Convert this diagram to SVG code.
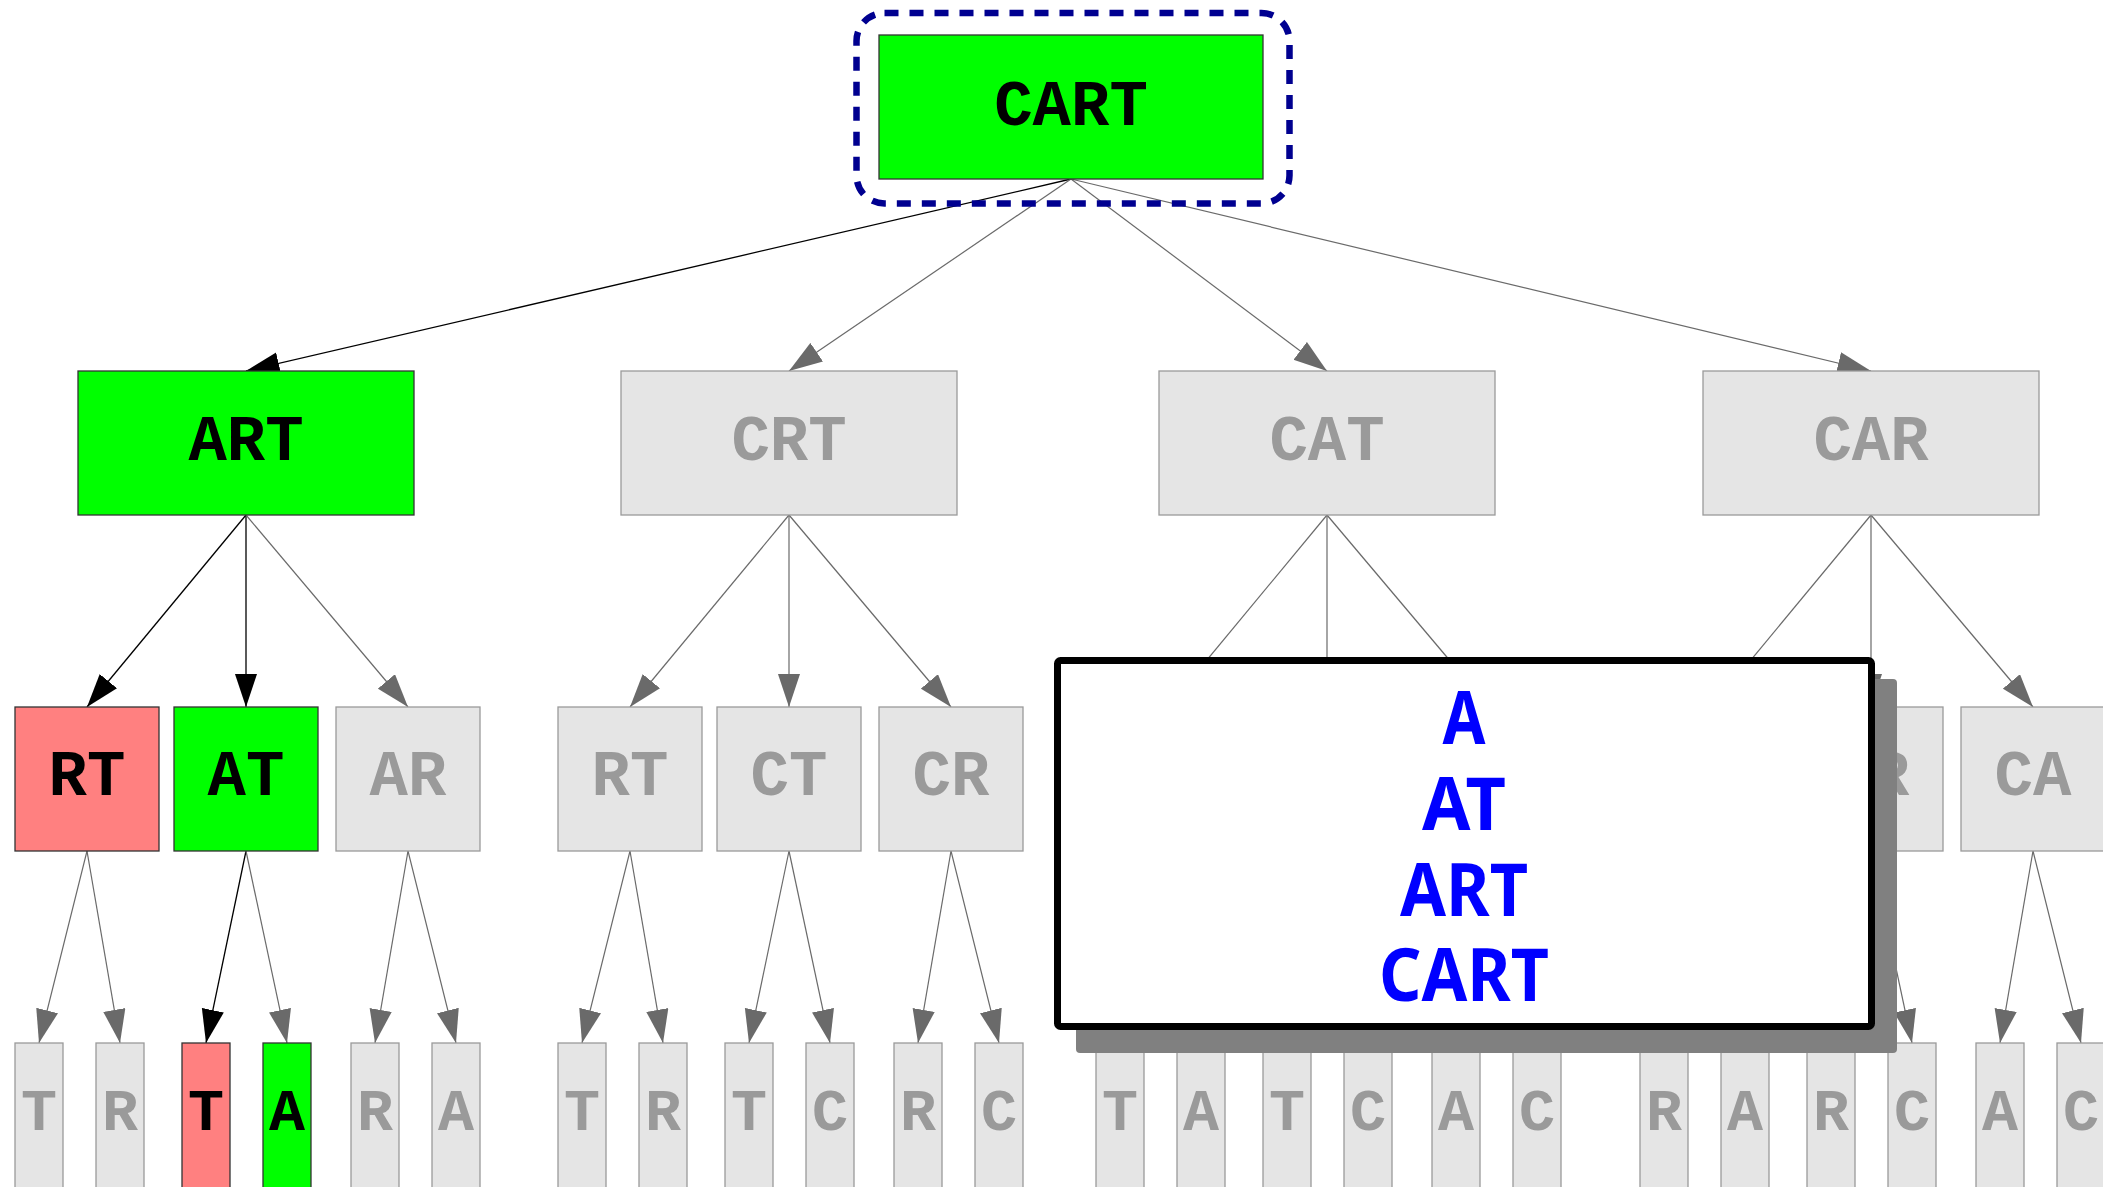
<svg xmlns="http://www.w3.org/2000/svg" width="2103" height="1187" viewBox="0 0 2103 1187">
<style>
.n rect{stroke-width:1.3}
.g rect{fill:#00ff00;stroke:#333}
.r rect{fill:#ff8080;stroke:#333}
.x rect{fill:#e5e5e5;stroke:#9a9a9a}
.n text{font-family:"Courier New","Liberation Mono",monospace;font-weight:bold;font-size:64px;text-anchor:middle}
.g text,.r text{fill:#000}
.x text{fill:#9a9a9a}
.l4 text{font-size:60px}
.eb{stroke:#000;stroke-width:1.3;fill:none;marker-end:url(#ab)}
.eg{stroke:#6a6a6a;stroke-width:1.2;fill:none;marker-end:url(#ag)}
.pop{font-family:"Noto Sans","Open Sans",sans-serif;font-weight:bold;font-size:73px;fill:#0000ff;text-anchor:middle}
</style>
<defs>
<marker id="ab" markerUnits="userSpaceOnUse" markerWidth="34" markerHeight="23" viewBox="0 0 34 23" refX="33.5" refY="11.2" orient="auto"><path d="M0,0 L33.5,11.2 L0,22.4 z" fill="#000"/></marker>
<marker id="ag" markerUnits="userSpaceOnUse" markerWidth="34" markerHeight="23" viewBox="0 0 34 23" refX="33.5" refY="11.2" orient="auto"><path d="M0,0 L33.5,11.2 L0,22.4 z" fill="#6a6a6a"/></marker>
</defs>
<rect width="2103" height="1187" fill="#fff"/>
<g id="connectors">
<line class="eb" x1="1071" y1="179" x2="246" y2="371"/>
<line class="eg" x1="1071" y1="179" x2="789" y2="371"/>
<line class="eg" x1="1071" y1="179" x2="1327" y2="371"/>
<line class="eg" x1="1071" y1="179" x2="1871" y2="371"/>
<line class="eb" x1="246" y1="515" x2="87" y2="707"/>
<line class="eb" x1="246" y1="515" x2="246" y2="707"/>
<line class="eg" x1="246" y1="515" x2="408" y2="707"/>
<line class="eg" x1="789" y1="515" x2="630" y2="707"/>
<line class="eg" x1="789" y1="515" x2="789" y2="707"/>
<line class="eg" x1="789" y1="515" x2="951" y2="707"/>
<line class="eg" x1="1327" y1="515" x2="1168" y2="707"/>
<line class="eg" x1="1327" y1="515" x2="1327" y2="707"/>
<line class="eg" x1="1327" y1="515" x2="1489" y2="707"/>
<line class="eg" x1="1871" y1="515" x2="1712" y2="707"/>
<line class="eg" x1="1871" y1="515" x2="1871" y2="707"/>
<line class="eg" x1="1871" y1="515" x2="2033" y2="707"/>
<line class="eg" x1="87" y1="851" x2="39" y2="1043"/>
<line class="eg" x1="87" y1="851" x2="120" y2="1043"/>
<line class="eb" x1="246" y1="851" x2="206" y2="1043"/>
<line class="eg" x1="246" y1="851" x2="287" y2="1043"/>
<line class="eg" x1="408" y1="851" x2="375" y2="1043"/>
<line class="eg" x1="408" y1="851" x2="456" y2="1043"/>
<line class="eg" x1="630" y1="851" x2="582" y2="1043"/>
<line class="eg" x1="630" y1="851" x2="663" y2="1043"/>
<line class="eg" x1="789" y1="851" x2="749" y2="1043"/>
<line class="eg" x1="789" y1="851" x2="830" y2="1043"/>
<line class="eg" x1="951" y1="851" x2="918" y2="1043"/>
<line class="eg" x1="951" y1="851" x2="999" y2="1043"/>
<line class="eg" x1="1168" y1="851" x2="1120" y2="1043"/>
<line class="eg" x1="1168" y1="851" x2="1201" y2="1043"/>
<line class="eg" x1="1327" y1="851" x2="1287" y2="1043"/>
<line class="eg" x1="1327" y1="851" x2="1368" y2="1043"/>
<line class="eg" x1="1489" y1="851" x2="1456" y2="1043"/>
<line class="eg" x1="1489" y1="851" x2="1537" y2="1043"/>
<line class="eg" x1="1712" y1="851" x2="1664" y2="1043"/>
<line class="eg" x1="1712" y1="851" x2="1745" y2="1043"/>
<line class="eg" x1="1871" y1="851" x2="1831" y2="1043"/>
<line class="eg" x1="1871" y1="851" x2="1912" y2="1043"/>
<line class="eg" x1="2033" y1="851" x2="2000" y2="1043"/>
<line class="eg" x1="2033" y1="851" x2="2081" y2="1043"/>
</g>
<g id="root-highlight"><rect x="856.5" y="13" width="433" height="190.5" rx="28" fill="none" stroke="#000090" stroke-width="6.5" stroke-dasharray="14 11"/></g>
<g id="n-CART" class="n g"><rect x="879" y="35" width="384" height="144"/><text x="1071" y="125">CART</text></g>
<g id="n-ART" class="n g"><rect x="78" y="371" width="336" height="144"/><text x="246" y="460">ART</text></g>
<g id="n-CRT" class="n x"><rect x="621" y="371" width="336" height="144"/><text x="789" y="460">CRT</text></g>
<g id="n-CAT" class="n x"><rect x="1159" y="371" width="336" height="144"/><text x="1327" y="460">CAT</text></g>
<g id="n-CAR" class="n x"><rect x="1703" y="371" width="336" height="144"/><text x="1871" y="460">CAR</text></g>
<g id="n-ART-RT" class="n r"><rect x="15" y="707" width="144" height="144"/><text x="87" y="795">RT</text></g>
<g id="n-ART-AT" class="n g"><rect x="174" y="707" width="144" height="144"/><text x="246" y="795">AT</text></g>
<g id="n-ART-AR" class="n x"><rect x="336" y="707" width="144" height="144"/><text x="408" y="795">AR</text></g>
<g id="n-CRT-RT" class="n x"><rect x="558" y="707" width="144" height="144"/><text x="630" y="795">RT</text></g>
<g id="n-CRT-CT" class="n x"><rect x="717" y="707" width="144" height="144"/><text x="789" y="795">CT</text></g>
<g id="n-CRT-CR" class="n x"><rect x="879" y="707" width="144" height="144"/><text x="951" y="795">CR</text></g>
<g id="n-CAT-AT" class="n x"><rect x="1096" y="707" width="144" height="144"/></g>
<g id="n-CAT-CT" class="n x"><rect x="1255" y="707" width="144" height="144"/></g>
<g id="n-CAT-CA" class="n x"><rect x="1417" y="707" width="144" height="144"/></g>
<g id="n-CAR-AR" class="n x"><rect x="1640" y="707" width="144" height="144"/></g>
<g id="n-CAR-CR" class="n x"><rect x="1799" y="707" width="144" height="144"/><text x="1871" y="795">CR</text></g>
<g id="n-CAR-CA" class="n x"><rect x="1961" y="707" width="144" height="144"/><text x="2033" y="795">CA</text></g>
<g id="n-l4-1" class="n x l4"><rect x="15" y="1043" width="48" height="150"/><text x="39" y="1130">T</text></g>
<g id="n-l4-2" class="n x l4"><rect x="96" y="1043" width="48" height="150"/><text x="120" y="1130">R</text></g>
<g id="n-l4-3" class="n r l4"><rect x="182" y="1043" width="48" height="150"/><text x="206" y="1130">T</text></g>
<g id="n-l4-4" class="n g l4"><rect x="263" y="1043" width="48" height="150"/><text x="287" y="1130">A</text></g>
<g id="n-l4-5" class="n x l4"><rect x="351" y="1043" width="48" height="150"/><text x="375" y="1130">R</text></g>
<g id="n-l4-6" class="n x l4"><rect x="432" y="1043" width="48" height="150"/><text x="456" y="1130">A</text></g>
<g id="n-l4-7" class="n x l4"><rect x="558" y="1043" width="48" height="150"/><text x="582" y="1130">T</text></g>
<g id="n-l4-8" class="n x l4"><rect x="639" y="1043" width="48" height="150"/><text x="663" y="1130">R</text></g>
<g id="n-l4-9" class="n x l4"><rect x="725" y="1043" width="48" height="150"/><text x="749" y="1130">T</text></g>
<g id="n-l4-10" class="n x l4"><rect x="806" y="1043" width="48" height="150"/><text x="830" y="1130">C</text></g>
<g id="n-l4-11" class="n x l4"><rect x="894" y="1043" width="48" height="150"/><text x="918" y="1130">R</text></g>
<g id="n-l4-12" class="n x l4"><rect x="975" y="1043" width="48" height="150"/><text x="999" y="1130">C</text></g>
<g id="n-l4-13" class="n x l4"><rect x="1096" y="1043" width="48" height="150"/><text x="1120" y="1130">T</text></g>
<g id="n-l4-14" class="n x l4"><rect x="1177" y="1043" width="48" height="150"/><text x="1201" y="1130">A</text></g>
<g id="n-l4-15" class="n x l4"><rect x="1263" y="1043" width="48" height="150"/><text x="1287" y="1130">T</text></g>
<g id="n-l4-16" class="n x l4"><rect x="1344" y="1043" width="48" height="150"/><text x="1368" y="1130">C</text></g>
<g id="n-l4-17" class="n x l4"><rect x="1432" y="1043" width="48" height="150"/><text x="1456" y="1130">A</text></g>
<g id="n-l4-18" class="n x l4"><rect x="1513" y="1043" width="48" height="150"/><text x="1537" y="1130">C</text></g>
<g id="n-l4-19" class="n x l4"><rect x="1640" y="1043" width="48" height="150"/><text x="1664" y="1130">R</text></g>
<g id="n-l4-20" class="n x l4"><rect x="1721" y="1043" width="48" height="150"/><text x="1745" y="1130">A</text></g>
<g id="n-l4-21" class="n x l4"><rect x="1807" y="1043" width="48" height="150"/><text x="1831" y="1130">R</text></g>
<g id="n-l4-22" class="n x l4"><rect x="1888" y="1043" width="48" height="150"/><text x="1912" y="1130">C</text></g>
<g id="n-l4-23" class="n x l4"><rect x="1976" y="1043" width="48" height="150"/><text x="2000" y="1130">A</text></g>
<g id="n-l4-24" class="n x l4"><rect x="2057" y="1043" width="48" height="150"/><text x="2081" y="1130">C</text></g>
<g id="popup">
<rect x="1076" y="679" width="821" height="374" rx="4" fill="#808080"/>
<rect x="1057.5" y="660.5" width="814" height="366" rx="3" fill="#fff" stroke="#000" stroke-width="7"/>
<text class="pop" x="1464" y="744" textLength="43" lengthAdjust="spacingAndGlyphs">A</text>
<text class="pop" x="1464" y="830" textLength="84" lengthAdjust="spacingAndGlyphs">AT</text>
<text class="pop" x="1464" y="916" textLength="128" lengthAdjust="spacingAndGlyphs">ART</text>
<text class="pop" x="1464" y="1001" textLength="170" lengthAdjust="spacingAndGlyphs">CART</text>
</g>
</svg>
